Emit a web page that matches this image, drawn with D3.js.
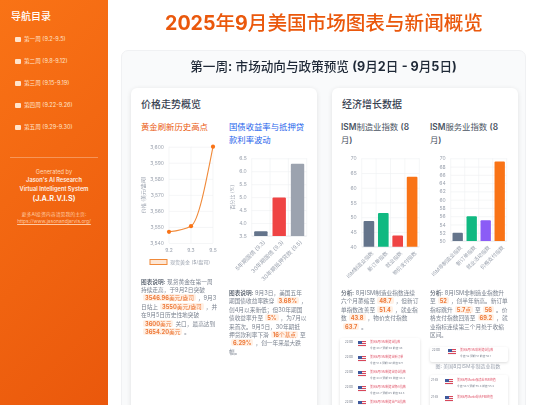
<!DOCTYPE html>
<html><head><meta charset="utf-8">
<script src="https://cdnjs.cloudflare.com/ajax/libs/d3/7.8.5/d3.min.js"></script>
<style>
html,body{margin:0;padding:0;width:540px;height:405px;overflow:hidden;background:#fff;font-family:Inter,"Noto Sans CJK SC",sans-serif;color:#374151}
#page{position:absolute;left:0;top:0;width:540px;height:405px;overflow:hidden;filter:blur(.25px)}
.a{position:absolute;white-space:nowrap}
.m{font-weight:700}
.hd{font-weight:500}
.hs .m{font-weight:600}
#side{position:absolute;left:0;top:0;width:108px;height:405px;background:linear-gradient(135deg,#f97316,#ea580c);color:#fff}
#week{position:absolute;left:121px;top:50px;width:405px;height:370px;background:#f9fafb;border:1px solid #f0f1f3;border-radius:7px;box-sizing:border-box}
.card{position:absolute;top:88px;width:186px;height:330px;background:#fff;border-radius:6px;box-shadow:0 1px 5px rgba(0,0,0,.1)}
.p{font-size:5.7px;line-height:8.4px;color:#7b8390}
.p b{color:#4b5563;font-weight:500}
.hl{background:#fff1e6;color:#ee7a3a;border-radius:2px;padding:0 2px;margin:0 2px}
.news{position:absolute;background:#fff;box-shadow:0 1px 3px rgba(0,0,0,.14);border-radius:2px}
svg{position:absolute;left:0;top:0;overflow:visible}
</style></head><body>
<div id="page">
<div id="side"></div>
<div class="a hd" style="left:0;width:540px;top:8px;padding-left:108px;box-sizing:border-box;text-align:center;font-size:19.6px;line-height:30px;color:#ea580c">2025年9月美国市场图表与新闻概览</div>
<div id="week"></div>
<div class="a hd" style="left:121px;width:405px;top:58px;text-align:center;font-size:12.6px;line-height:18px;color:#1f2937">第一周: 市场动向与政策预览 (9月2日 - 9月5日)</div>
<div class="card" style="left:131px"></div>
<div class="card" style="left:332px"></div>
<div class="a" style="left:141px;top:97px;font-size:10px;line-height:14px;font-weight:500;color:#374151">价格走势概览</div>
<div class="a" style="left:342px;top:97px;font-size:10px;line-height:14px;font-weight:500;color:#374151">经济增长数据</div>
<div class="a" style="left:141px;top:121px;font-size:8.4px;line-height:13px;color:#ea580c">黄金刷新历史高点</div>
<div class="a" style="left:229px;top:121px;font-size:8.35px;line-height:12.5px;color:#2563eb">国债收益率与抵押贷<br>款利率波动</div>
<div class="a hd hs" style="left:341px;top:121px;font-size:8.35px;line-height:12.5px;font-weight:400;color:#4b5563">ISM制造业指数 (8<br>月)</div>
<div class="a hd hs" style="left:430px;top:121px;font-size:8.35px;line-height:12.5px;font-weight:400;color:#4b5563">ISM服务业指数 (8<br>月)</div>
<svg id="chart" width="540" height="405"></svg>
<div id="notes"></div>
<div id="newsBox"></div>
</div>
<script>
// sidebar
const navLabels=["第一周 (9.2-9.5)","第二周 (9.8-9.12)","第三周 (9.15-9.19)","第四周 (9.22-9.26)","第五周 (9.29-9.30)"];
// chart data
const goldDays=["9.2","9.3","9.5"];
const goldPrices=[3546.96,3550.5,3600];
const goldTicks=[3540,3550,3560,3570,3580,3590,3600];
const bondCats=["5年期国债 (9.3)","30年期国债 (9.3)","30年期抵押贷款 (9.5)"];
const bondVals=[3.68,4.99,6.29];
const bondColors=["#64748b","#ef4444","#9ca3af"];
const bondTicks=[3.5,4,4.5,5,5.5,6,6.5];
const mfgCats=["ISM制造业指数","新订单指数","就业指数","物价支付指数"];
const mfgVals=[48.7,51.4,43.8,63.7];
const mfgColors=["#64748b","#10b981","#ef4444","#f97316"];
const mfgTicks=[40,45,50,55,60,65,70];
const svcCats=["ISM非制造业指数","新订单指数","就业活动指数","价格支付指数"];
const svcVals=[52,56,55,69.2];
const svcColors=["#64748b","#10b981","#8b5cf6","#f97316"];
const svcTicks=[50,52,54,56,58,60,62,64,66,68,70];

// latin runs bold, CJK runs regular
const boldLatin=s=>s.replace(/[\x21-\x7e]+(?:\s+[\x21-\x7e]+)*/g,m=>`<span class="m">${m}</span>`);
d3.selectAll(".hd").each(function(){
  const parts=this.innerHTML.split("<br>");
  this.innerHTML=parts.map(boldLatin).join("<br>");
});

const side=d3.select("#side");
side.append("div").attr("class","a").style("left","11px").style("top","9px").style("font-size","10px").style("line-height","15px").style("font-weight","500").text("导航目录");
navLabels.forEach((t,i)=>{
  const y=39+i*22;
  side.append("div").attr("class","a").style("left","15px").style("top",(y-2.5)+"px").style("width","5.5px").style("height","5.5px").style("background","#ffe4cc").style("border-radius","1px");
  side.append("div").attr("class","a").style("left","24px").style("top",(y-4)+"px").style("font-size","5.6px").style("line-height","8px").style("color","#ffe4cc").text(t);
});
side.append("div").style("position","absolute").style("left","10px").style("top","157px").style("width","88px").style("height","1px").style("background","rgba(255,255,255,.3)");
[["Generated by",172,5.7,400,"#ffd9b8"],["Jason's AI Research",180,5.7,600,"#fff1e6"],["Virtual Intelligent System",189,5.7,600,"#fff1e6"],["(J.A.R.V.I.S)",198.5,7.4,600,"#fff"],["更多AI投资内容请见我的主页:",214,4.9,400,"#ffc9a0"],["https://www.jasonandjarvis.org/",221,4.9,400,"#ffc9a0"]].forEach(r=>{
  const d=side.append("div").attr("class","a").style("left","0").style("width","108px").style("text-align","center").style("top",(r[1]-5)+"px").style("line-height","10px").style("font-size",r[2]+"px").style("font-weight",r[3]).style("color",r[4]).text(r[0]);
  if(r[0].startsWith("http"))d.style("text-decoration","underline");
});

const svg=d3.select("#chart");
const FS=5, TC="#9ca3af", GRID="#eef0f2";
function frame(x,y,yt,fmt){
  const g=svg.append("g");
  const [x0,x1]=x.range();
  const ax=g.append("g").attr("transform",`translate(${x0},0)`).call(d3.axisLeft(y).tickValues(yt).tickSize(-(x1-x0)).tickPadding(5).tickFormat(fmt));
  ax.select(".domain").remove();
  ax.selectAll("line").attr("stroke",GRID).attr("stroke-width",.6);
  ax.selectAll("text").attr("font-size",FS).attr("fill",TC).attr("font-family","Inter,sans-serif");
  return g;
}
function barChart(cats,vals,cols,ticks,fmt,box,barFrac,ylab,labFS){
  const x=d3.scaleBand().domain(cats).range([box[0],box[1]]).paddingInner(0).paddingOuter(0);
  const y=d3.scaleLinear().domain([ticks[0],ticks[ticks.length-1]]).range([box[3],box[2]]);
  const g=frame(x,y,ticks,fmt);
  cats.forEach((c,i)=>{const xx=box[0]+x.step()*i;
    g.append("line").attr("x1",xx).attr("x2",xx).attr("y1",box[2]).attr("y2",box[3]).attr("stroke",GRID).attr("stroke-width",.6);});
  g.append("line").attr("x1",box[1]).attr("x2",box[1]).attr("y1",box[2]).attr("y2",box[3]).attr("stroke",GRID).attr("stroke-width",.6);
  g.append("line").attr("x1",box[0]).attr("x2",box[1]).attr("y1",box[3]).attr("y2",box[3]).attr("stroke","#e0e3e7").attr("stroke-width",.6);
  const bw=x.bandwidth()*barFrac;
  g.selectAll(".bar").data(cats).enter().append("path")
    .attr("fill",(d,i)=>cols[i])
    .attr("d",(d,i)=>{const l=x(d)+(x.bandwidth()-bw)/2,t=y(vals[i]),b=box[3],r=1;
      return `M${l},${b}V${t+r}Q${l},${t} ${l+r},${t}H${l+bw-r}Q${l+bw},${t} ${l+bw},${t+r}V${b}Z`;});
  g.selectAll(".lab").data(cats).enter().append("text")
    .attr("transform",d=>`translate(${x(d)+x.bandwidth()/2+2},${box[3]+4}) rotate(-45)`)
    .attr("text-anchor","end").attr("font-size",labFS).attr("fill",TC).attr("dominant-baseline","hanging")
    .text(d=>d);
  if(ylab)g.append("text").attr("transform",`translate(${box[0]-18},${(box[2]+box[3])/2}) rotate(-90)`).attr("text-anchor","middle").attr("font-size",FS).attr("fill",TC).text(ylab);
}
// gold line
(function(){
  const box=[169,213,146.7,243];
  const x=d3.scalePoint().domain(goldDays).range([box[0],box[1]]);
  const y=d3.scaleLinear().domain([3540,3600]).range([box[3],box[2]]);
  const g=frame(x,y,goldTicks,d3.format(","));
  goldDays.forEach(d=>g.append("line").attr("x1",x(d)).attr("x2",x(d)).attr("y1",box[2]).attr("y2",box[3]).attr("stroke",GRID).attr("stroke-width",.6));
  g.append("path").datum(goldDays.map((d,i)=>[x(d),y(goldPrices[i])])).attr("d",d3.line().curve(d3.curveMonotoneX)).attr("fill","none").attr("stroke","#f08a3a").attr("stroke-width",1.1);
  g.selectAll(".pt").data(goldDays).enter().append("circle").attr("cx",d=>x(d)).attr("cy",(d,i)=>y(goldPrices[i])).attr("r",2.1).attr("fill","#f97316");
  g.selectAll(".xl").data(goldDays).enter().append("text").attr("x",d=>x(d)).attr("y",box[3]+9).attr("text-anchor","middle").attr("font-size",FS).attr("fill",TC).text(d=>d);
  g.append("text").attr("transform",`translate(${box[0]-24},${(box[2]+box[3])/2}) rotate(-90)`).attr("text-anchor","middle").attr("font-size",FS).attr("fill",TC).text("价格 (美元/盎司)");
  g.append("rect").attr("x",150).attr("y",259.5).attr("width",17).attr("height",5).attr("fill","#fde6d4").attr("stroke","#f08a3a").attr("stroke-width",1);
  g.append("text").attr("x",170).attr("y",264).attr("font-size",FS).attr("fill",TC).text("现货黄金 ($/盎司)");
})();
barChart(bondCats,bondVals,bondColors,bondTicks,d3.format(".1f"),[251.7,306.7,158.3,236],.73,"百分比 (%)",5.6);
barChart(mfgCats,mfgVals,mfgColors,mfgTicks,d3.format("d"),[361.7,419.3,158.3,246.7],.74,null,5.2);
barChart(svcCats,svcVals,svcColors,svcTicks,d3.format("d"),[450.7,506.7,158.3,241],.74,null,5.2);

// notes
const H=s=>`<span class="hl">${boldLatin(s)}</span>`;
const notes=[
 [141,277.5,["<b>图表说明:</b> 现货黄金在第一周","持续走高，于9月2日突破",H("3546.96美元/盎司")+"，9月3","日站上"+H("3550美元/盎司")+"，并","在9月5日历史性地突破",H("3600美元")+"关口，最高达到",H("3654.20美元")+"。"]],
 [229,289,["<b>图表说明:</b> 9月3日，美国五年","期国债收益率跌穿"+H("3.68%")+"，","创4月以来新低；但30年期国","债收益率升至"+H("5%")+"，为7月以","来首次。9月5日，30年期抵","押贷款利率下滑"+H("16个基点")+"至",H("6.29%")+"，创一年来最大跌","幅。"]],
 [341,289,["<b>分析:</b> 8月ISM制造业指数连续","六个月萎缩至"+H("48.7")+"，但新订","单指数改善至"+H("51.4")+"，就业指","数"+H("43.8")+"，物价支付指数",H("63.7")+"。"]],
 [430,289,["<b>分析:</b> 8月ISM非制造业指数升","至"+H("52")+"，创半年新高。新订单","指标跳升"+H("5.7点")+"至"+H("56")+"。价","格支付指数回落至"+H("69.2")+"，就","业指标连续第三个月处于收缩","区间。"]]
];
const nb=d3.select("#notes");
notes.forEach(n=>n[2].forEach((l,i)=>nb.append("div").attr("class","a p").style("left",n[0]+"px").style("top",(n[1]+i*8.4)+"px").html(l)));

// news
const newsTitles=["美国8月ISM制造业指数","美国8月ISM制造业新订单","美国8月ISM制造业就业指数","美国8月ISM制造业物价指数","美国8月ISM制造业产出指数"];
const newsTimes=["22:00","22:00","22:00","22:00","22:00"];
const newsLines=["今值:48.7 预期:49 前值:48","今值:51.4 预期:49 前值:47.1","今值:43.8 预期:45 前值:43.4","今值:63.7 预期:65 前值:64.8",""];
const svcTitle="美国8月ISM非制造业指数";
const svcLine="今值:52 预期:51 前值:50.1";
const svcExtraTitles=["美国8月Markit服务业PMI终值","美国8月Markit综合PMI终值"];
const svcExtraLines=["今值:54.5 预期:55.4 前值:55.4",""];
const box=d3.select("#newsBox");
function flag(x,y){
  box.append("div").attr("class","a").style("left",x+"px").style("top",y+"px").style("width","8px").style("height","6px").style("background","repeating-linear-gradient(#d9475a 0 1px,#f3f3f6 1px 2px)");
  box.append("div").attr("class","a").style("left",x+"px").style("top",y+"px").style("width","4px").style("height","3px").style("background","#3f5a9c");
}
function item(x,y,time,title,line,fx,tx){
  box.append("div").attr("class","a").style("left",x+"px").style("top",(y-2)+"px").style("font-size","2.8px").style("line-height","4px").style("color","#6b7280").text(time);
  flag(fx,y-1);
  box.append("div").attr("class","a").style("left",tx+"px").style("top",(y-2)+"px").style("font-size","2.9px").style("line-height","4px").style("color","#e0556a").text(title);
  if(line)box.append("div").attr("class","a").style("left",tx+"px").style("top",(y+4)+"px").style("font-size","2.7px").style("line-height","4px").style("color","#7b8390").text(line);
}
box.append("div").attr("class","news").style("left","340px").style("top","338px").style("width","80px").style("height","80px");
newsTitles.forEach((t,i)=>item(345,342+i*15,newsTimes[i],t,newsLines[i],358,370));
box.append("div").attr("class","news").style("left","430px").style("top","347px").style("width","78px").style("height","15px");
item(432,350,"22:00",svcTitle,svcLine,448,460);
box.append("div").attr("class","a").style("left","428px").style("width","80px").style("top","362px").style("text-align","center").style("font-size","5px").style("line-height","8px").style("color","#9ca3af").text("图: 美国8月ISM非制造业指数");
box.append("div").attr("class","news").style("left","430px").style("top","375px").style("width","78px").style("height","40px");
svcExtraTitles.forEach((t,i)=>item(431,380+i*16.5,"21:45",t,svcExtraLines[i],445,457));
</script>
</body></html>
